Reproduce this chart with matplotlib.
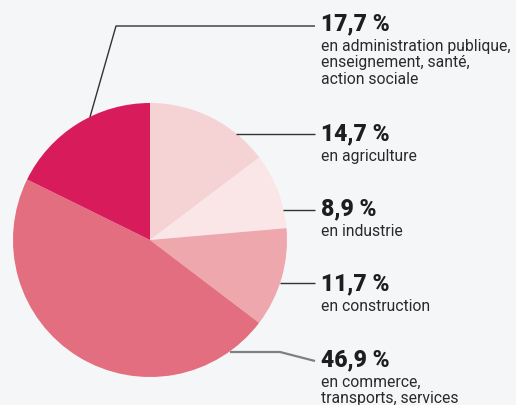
import matplotlib
matplotlib.use("Agg")
import matplotlib.pyplot as plt
import numpy as np

# shares of employment by sector (%), clockwise from 12 o'clock
sectors = ["agriculture", "industrie", "construction", "commerce", "administration"]
shares = [14.7, 8.9, 11.7, 46.9, 17.7]
pct_labels = ["14,7 %", "8,9 %", "11,7 %", "46,9 %", "17,7 %"]
sub_labels = [
    "en agriculture",
    "en industrie",
    "en construction",
    "en commerce,\ntransports, services",
    "en administration publique,\nenseignement, santé,\naction sociale",
]
colors = ["#F5D3D4", "#FAE6E7", "#EDA7AD", "#E36E80", "#D81B5A"]

W, H = 516, 405
BG = "#F5F6F8"
fig = plt.figure(figsize=(W / 100, H / 100), dpi=100, facecolor=BG)
ax = fig.add_axes([0, 0, 1, 1])
ax.set_facecolor(BG)

cx, cy, r = 150, H - 240, 137
wedges, _ = ax.pie(shares, colors=colors, startangle=90, counterclock=False,
                   center=(cx, cy), radius=r, frame=True,
                   wedgeprops=dict(linewidth=0))
ax.set_xlim(0, W)
ax.set_ylim(0, H)
ax.set_aspect("equal")
ax.axis("off")

# leader lines: (pixel y of label, path from pie edge) - layout only
text_x = 321
label_y = [134, 209, 284, 360, 24]
line_paths = [
    [(236, 134), (315, 134)],
    [(283, 210), (315, 210)],
    [(280, 283), (315, 283)],
    [(230, 352), (280, 352), (315, 361)],
    [(90, 117), (116, 26), (315, 26)],
]
line_colors = ["#333333", "#333333", "#333333", "#808080", "#333333"]
line_widths = [1.0, 1.0, 1.0, 1.6, 1.0]

for i in range(len(shares)):
    xs = [p[0] for p in line_paths[i]]
    ys = [H - p[1] for p in line_paths[i]]
    ax.plot(xs, ys, color=line_colors[i], lw=line_widths[i], solid_capstyle="butt")
    ax.text(text_x, H - label_y[i], pct_labels[i], fontsize=16.5, fontweight="black",
            family="Roboto", color="#1E1E1E", va="center", ha="left")
    ax.text(text_x, H - label_y[i] - 15, sub_labels[i], fontsize=11.3,
            family="Roboto", color="#2A2A2A", va="top", ha="left", linespacing=1.12)

fig.savefig("out.png", dpi=100, facecolor=BG)
